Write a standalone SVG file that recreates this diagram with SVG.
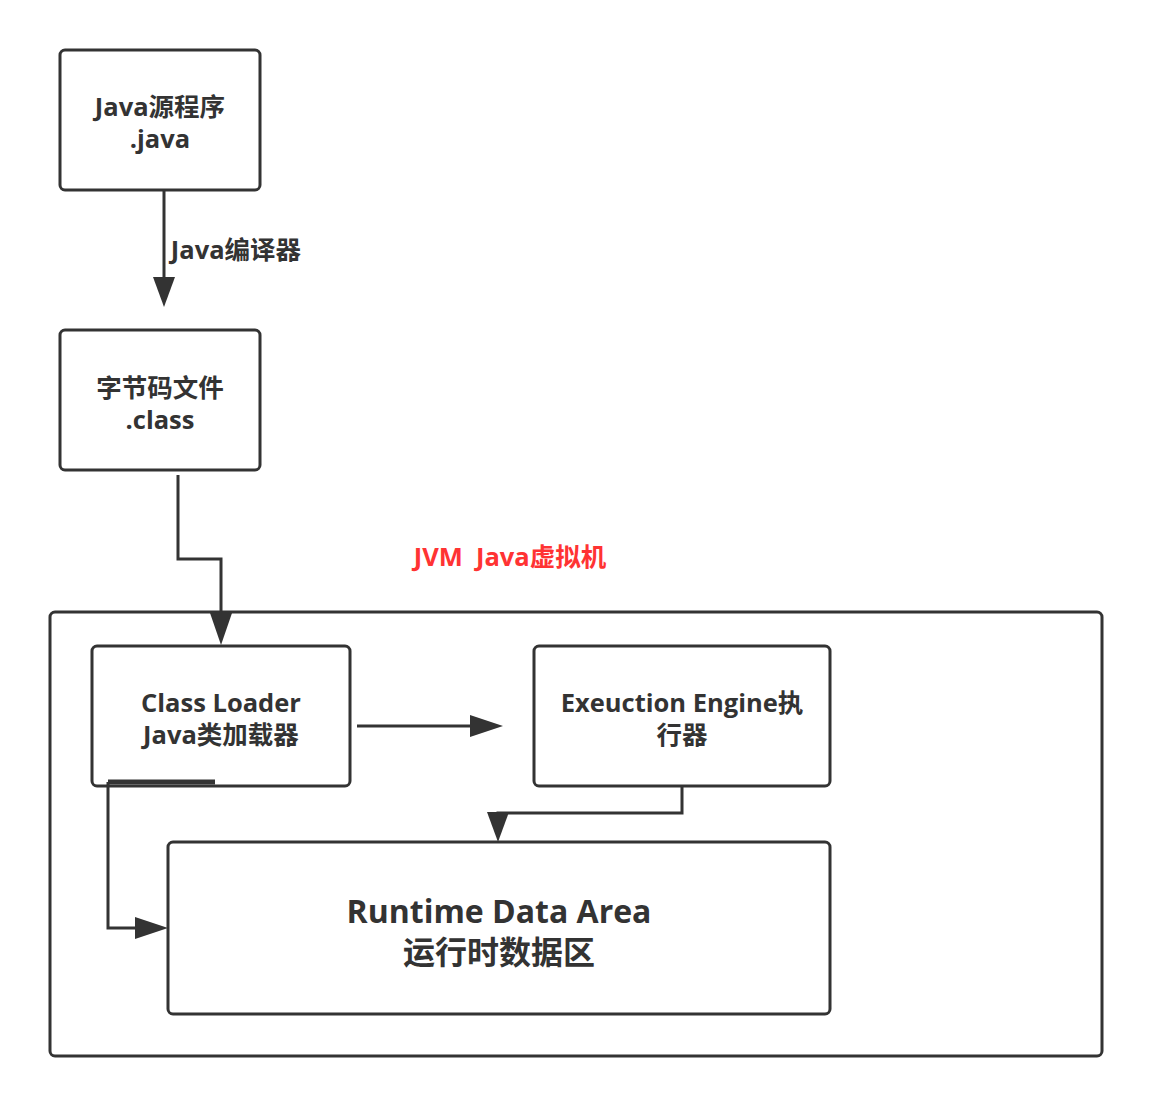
<svg xmlns="http://www.w3.org/2000/svg" width="1152" height="1106" viewBox="0 0 1152 1106">
<defs>
<style>
.box{fill:#fff;stroke:#333;stroke-width:3}
.con{fill:none;stroke:#333;stroke-width:3}
.t{font-family:"Open Sans","Noto Sans CJK SC",sans-serif;font-weight:bold;font-size:25.5px;fill:#333;text-anchor:middle}
.big{font-size:32px}
.red{fill:#ff3333;font-size:25.5px;white-space:pre}
</style>
</defs>
<rect width="1152" height="1106" fill="#fff"/>
<g id="jvm">
<rect class="box" x="50" y="612" width="1052" height="444" rx="5"/>
<text class="t red" x="510" y="566" xml:space="preserve">JVM  Java虚拟机</text>
</g>
<g id="java-source">
<rect class="box" x="60" y="50" width="200" height="140" rx="5"/>
<text class="t" x="160" y="116">Java源程序</text>
<text class="t" x="160" y="148">.java</text>
</g>
<g id="class-file">
<rect class="box" x="60" y="330" width="200" height="140" rx="5"/>
<text class="t" x="160" y="397">字节码文件</text>
<text class="t" x="160" y="429">.class</text>
</g>
<g id="class-loader">
<rect class="box" x="92" y="646" width="258" height="140" rx="5"/>
<text class="t" x="221" y="712">Class Loader</text>
<text class="t" x="221" y="744">Java类加载器</text>
</g>
<g id="execution-engine">
<rect class="box" x="534" y="646" width="296" height="140" rx="5"/>
<text class="t" x="682" y="712">Exeuction Engine执</text>
<text class="t" x="682" y="744">行器</text>
</g>
<g id="runtime-data-area">
<rect class="box" x="168" y="842" width="662" height="172" rx="5"/>
<text class="t big" x="499" y="923">Runtime Data Area</text>
<text class="t big" x="499" y="964">运行时数据区</text>
</g>
<g id="connectors">
<path class="con" d="M164,190 L164,280"/>
<polygon fill="#333" points="153,277 175,277 164,307"/>
<text class="t" x="236" y="259">Java编译器</text>
<path class="con" d="M178,475 L178,559 L221,559 L221,616"/>
<polygon fill="#333" points="210,613 232,613 221,645"/>
<path class="con" d="M357,726 L472,726"/>
<polygon fill="#333" points="470,715 470,737 503,726"/>
<path class="con" d="M682,786 L682,813 L498,813 L498,815"/>
<polygon fill="#333" points="487,812 509,812 498,842"/>
<path d="M215,782 L108,782" stroke="#333" stroke-width="5" fill="none"/>
<path class="con" d="M108,782 L108,928 L138,928"/>
<polygon fill="#333" points="135,917 135,939 168,928"/>
</g>
</svg>
